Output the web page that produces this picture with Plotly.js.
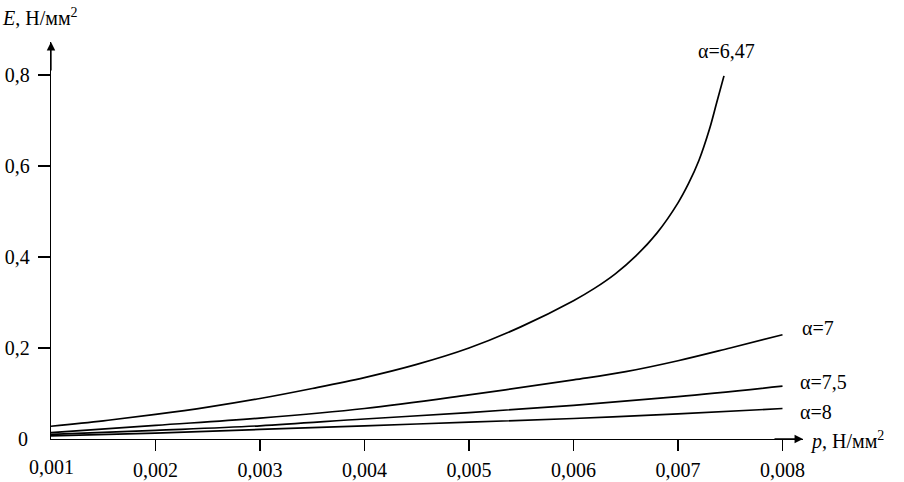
<!DOCTYPE html>
<html>
<head>
<meta charset="utf-8">
<script src="https://cdn.plot.ly/plotly-3.0.1.min.js"></script>
<style>html,body{margin:0;padding:0;background:#fff;}#chart{width:904px;height:482px;}</style>
</head>
<body>
<div id="chart"></div>
<script>
// ---- data ----
const p_a647 = [0.001, 0.0015, 0.002, 0.0025, 0.003, 0.0035, 0.004, 0.0045, 0.005, 0.0055, 0.006, 0.0062, 0.0064, 0.0066, 0.0068, 0.007, 0.0071, 0.0072, 0.0073, 0.00737, 0.00744];
const E_a647 = [0.028, 0.040, 0.054, 0.070, 0.089, 0.111, 0.135, 0.164, 0.200, 0.247, 0.304, 0.331, 0.363, 0.403, 0.453, 0.519, 0.561, 0.612, 0.680, 0.739, 0.798];

const p_a7 = [0.001, 0.002, 0.003, 0.004, 0.005, 0.006, 0.0065, 0.007, 0.0075, 0.008];
const E_a7 = [0.014, 0.030, 0.046, 0.067, 0.097, 0.130, 0.148, 0.172, 0.200, 0.229];

const p_a75 = [0.001, 0.002, 0.003, 0.004, 0.005, 0.006, 0.007, 0.008];
const E_a75 = [0.010, 0.019, 0.029, 0.044, 0.058, 0.074, 0.093, 0.116];

const p_a8 = [0.001, 0.002, 0.003, 0.004, 0.005, 0.006, 0.007, 0.008];
const E_a8 = [0.007, 0.013, 0.021, 0.029, 0.037, 0.045, 0.055, 0.067];

const seriesNames = ["α=6,47", "α=7", "α=7,5", "α=8"];

const xTickVals = [0.001, 0.002, 0.003, 0.004, 0.005, 0.006, 0.007, 0.008];
const xTickText = ["0,001", "0,002", "0,003", "0,004", "0,005", "0,006", "0,007", "0,008"];
const yTickVals = [0, 0.2, 0.4, 0.6, 0.8];
const yTickText = ["0", "0,2", "0,4", "0,6", "0,8"];

const xTitle = "<i>p</i>, Н/мм<sup>2</sup>";
const yTitle = "<i>E</i>, Н/мм<sup>2</sup>";

// ---- chart ----
const FONT = "'Liberation Serif', Tinos, 'Times New Roman', 'DejaVu Serif', serif";
const TF = {family: FONT, size: 20, color: "#000"};
const xs = [p_a647, p_a7, p_a75, p_a8];
const ys = [E_a647, E_a7, E_a75, E_a8];
const traces = xs.map((x, i) => ({
  x: x, y: ys[i], type: "scatter", mode: "lines", name: seriesNames[i],
  line: {color: "#000", width: 1.7, shape: "spline", smoothing: 1}, hoverinfo: "skip"
}));

const xMax = 0.0081962, yMax = 0.8725;

const labelPos = [
  {x: 0.007172, y: 0.852},
  {x: 0.008163, y: 0.244},
  {x: 0.008145, y: 0.125},
  {x: 0.008145, y: 0.060}
];
const annotations = seriesNames.map((t, i) => ({
  text: t, x: labelPos[i].x, y: labelPos[i].y, xref: "x", yref: "y",
  xanchor: "left", yanchor: "middle", showarrow: false, font: TF
}));

// axis arrowheads
annotations.push({x: xMax, y: 0, xref: "x", yref: "y", ax: -30, ay: 0, text: "",
  showarrow: true, arrowhead: 2, arrowsize: 1.3, arrowwidth: 1.3, arrowcolor: "#000", standoff: 0});
annotations.push({x: 0.001, y: yMax, xref: "x", yref: "y", ax: 0, ay: 30, text: "",
  showarrow: true, arrowhead: 2, arrowsize: 1.3, arrowwidth: 1.3, arrowcolor: "#000", standoff: 0});

const W = 904, H = 482, L = 51, R = 101, T = 42, B = 43;
function pxAnn(text, xp, yp) {
  return {text: text, x: (xp - L) / (W - L - R), y: (H - B - yp) / (H - T - B), xref: "paper", yref: "paper",
    xanchor: "left", yanchor: "middle", showarrow: false, font: TF};
}
// axis titles
annotations.push(pxAnn(xTitle, 808, 440));
annotations.push(pxAnn(yTitle, 0, 17));
// origin labels (no tick marks drawn there)
annotations.push({text: xTickText[0], x: xTickVals[0], y: 0, xref: "x", yref: "y", yshift: -28, showarrow: false, font: TF});
annotations.push({text: yTickText[0], x: xTickVals[0], y: 0, xref: "x", yref: "y", xshift: -28, showarrow: false, font: TF});

const layout = {
  width: W, height: H,
  margin: {l: L, r: R, t: T, b: B, pad: 0},
  paper_bgcolor: "#fff", plot_bgcolor: "#fff",
  showlegend: false,
  font: TF,
  xaxis: {
    range: [0.001, xMax], showgrid: false, zeroline: false,
    showline: true, linecolor: "#000", linewidth: 1.3,
    tickvals: xTickVals.slice(1), ticktext: xTickText.slice(1),
    ticks: "outside", ticklen: 11, tickwidth: 1.5, tickcolor: "#000",
    tickfont: TF, ticklabelstandoff: 2
  },
  yaxis: {
    range: [0, yMax], showgrid: false, zeroline: false,
    showline: true, linecolor: "#000", linewidth: 1.3,
    tickvals: yTickVals.slice(1), ticktext: yTickText.slice(1),
    ticks: "outside", ticklen: 12, tickwidth: 1.5, tickcolor: "#000",
    tickfont: TF, ticklabelstandoff: 4
  },
  annotations: annotations
};

Plotly.newPlot("chart", traces, layout, {staticPlot: true, displayModeBar: false});
</script>
</body>
</html>
